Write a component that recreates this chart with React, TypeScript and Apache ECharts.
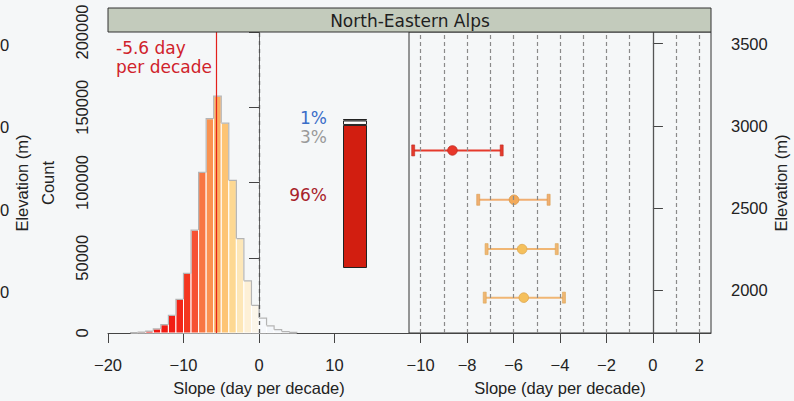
import React, { useEffect, useRef } from "react";
import * as echarts from "echarts";

// ---------- data ----------
const TITLE = "North-Eastern Alps";
const MEDIAN_SLOPE = -5.6;
// histogram bins (lower edge, width 1 day/decade) and counts
const binStarts = [-17, -16, -15, -14, -13, -12, -11, -10, -9, -8, -7, -6, -5, -4, -3, -2, -1, 0, 1, 2, 3, 4];
const binCounts = [300, 600, 1300, 2700, 5500, 11700, 22400, 39600, 68400, 106700, 142400, 157400, 139500, 101400, 62700, 34700, 18400, 9900, 4800, 2200, 900, 400];
const histXTicks = [-20, -10, 0, 10];
// share of pixels: significant negative / not significant / positive
const shareLabels = ["96%", "3%", "1%"];
const shareValues = [96, 3, 1];
// elevation bands: slope estimate with confidence interval
const bandElevation = [2850, 2550, 2250, 1955];
const bandSlope = [-8.63, -5.98, -5.63, -5.56];
const bandLow = [-10.32, -7.52, -7.16, -7.24];
const bandHigh = [-6.51, -4.49, -4.14, -3.83];
const slopeTicks = [-10, -8, -6, -4, -2, 0, 2];
const slopeGuides = [-10, -9, -8, -7, -6, -5, -4, -3, -2, -1, 1, 2];
const elevTicks = [2000, 2500, 3000, 3500];
// cut-off tick labels of the neighbouring panel (at the elevation ticks)
const neighbourLabels = ["0", "0", "0", "0"];

// ---------- styles ----------
const binColors = [
  "#e8140e", "#ea140e", "#ec150f", "#ee1710", "#f01a12", "#f21d14", "#f32518",
  "#f4361f", "#f65234", "#f87642", "#fa9250", "#fcad5e", "#fdc474", "#fdd892",
  "#fde7b8", "#fdf0d6", "#fcf6ea", "#f6f8fb", "#f4f7fb", "#f4f7fb", "#f4f7fb", "#f4f7fb",
];
const shareColors = ["#d21e10", "#ffffff", "#3a6ec8"];
const shareTextColors = ["#a8222a", "#9a9a9a", "#3a6ec8"];
const bandStyles = [
  { line: "#e53a2c", fill: "#e8372a", stroke: "#c02a20" },
  { line: "#f0ae72", fill: "#f3aa5a", stroke: "#d99848" },
  { line: "#f0b674", fill: "#f5c05c", stroke: "#dca650" },
  { line: "#f0b674", fill: "#f5c05c", stroke: "#dca650" },
];

const SANS = "'Liberation Sans', Arial, sans-serif";
const VERD = "'DejaVu Sans', Verdana, sans-serif";
const minus = (v: number) => (v < 0 ? "\u2212" + Math.abs(v) : String(v));

export default function App() {
  const ref = useRef<HTMLDivElement>(null);
  useEffect(() => {
    if (!ref.current) return;
    const chart = echarts.init(ref.current, undefined, { renderer: "svg" });

    const histData = binStarts.map((s, i) => [
      s,
      s + 1,
      binCounts[i],
      i > 0 ? binCounts[i - 1] : 0,
      i < binCounts.length - 1 ? binCounts[i + 1] : 0,
    ]);
    const bandData = bandElevation.map((e, i) => [e, bandSlope[i], bandLow[i], bandHigh[i]]);

    const axisText = { color: "#222", fontFamily: SANS, fontSize: 16.5 };
    const axisLineStyle = { color: "#444", width: 1 };

    const option: any = {
      animation: false,
      backgroundColor: "#f5f7f8",
      grid: [
        { left: 108, top: 32, width: 302, height: 301 },
        { left: 343, top: 119, width: 24, height: 149 },
        { left: 409, top: 32, width: 302, height: 301, show: true, borderColor: "#333", borderWidth: 1, backgroundColor: "transparent" },
      ],
      xAxis: [
        {
          gridIndex: 0,
          type: "value",
          min: -20,
          max: 20,
          interval: 10,
          name: "Slope (day per decade)",
          nameLocation: "middle",
          nameGap: 46,
          nameTextStyle: { ...axisText },
          axisLine: { show: true, lineStyle: axisLineStyle },
          axisTick: { show: true, length: 10, customValues: histXTicks, lineStyle: axisLineStyle },
          axisLabel: { ...axisText, margin: 23, customValues: histXTicks, formatter: (v: number) => minus(v) },
          splitLine: { show: false },
        },
        { gridIndex: 1, type: "category", data: ["share"], show: false },
        {
          gridIndex: 2,
          type: "value",
          min: -10.5,
          max: 2.5,
          name: "Slope (day per decade)",
          nameLocation: "middle",
          nameGap: 46,
          nameTextStyle: { ...axisText },
          axisLine: { show: true, lineStyle: axisLineStyle },
          axisTick: { show: true, length: 10, customValues: slopeTicks, lineStyle: axisLineStyle },
          axisLabel: { ...axisText, margin: 23, customValues: slopeTicks, formatter: (v: number) => minus(v) },
          splitLine: { show: false },
        },
      ],
      yAxis: [
        {
          gridIndex: 0,
          type: "value",
          min: 0,
          max: 200000,
          interval: 50000,
          axisLine: { show: true, lineStyle: { color: "#666", width: 1 } },
          axisTick: { show: true, length: 10, lineStyle: axisLineStyle },
          axisLabel: { ...axisText, rotate: 90, margin: 18, formatter: (v: number) => String(v) },
          splitLine: { show: false },
        },
        { gridIndex: 1, type: "value", min: 0, max: 100, show: false },
        {
          gridIndex: 2,
          type: "value",
          position: "right",
          min: 1740,
          max: 3570,
          axisLine: { show: true, lineStyle: axisLineStyle },
          axisTick: { show: true, length: 10, customValues: elevTicks, lineStyle: axisLineStyle },
          axisLabel: { ...axisText, margin: 20, customValues: elevTicks, formatter: (v: number) => String(v) },
          splitLine: { show: false },
        },
      ],
      series: [
        {
          type: "custom",
          xAxisIndex: 0,
          yAxisIndex: 0,
          data: histData,
          encode: { x: [0, 1], y: 2 },
          renderItem: (params: any, api: any) => {
            const x0 = api.value(0), x1 = api.value(1), c = api.value(2);
            const prev = api.value(3), next = api.value(4);
            const b = api.coord([x0, 0]);
            const t = api.coord([x1, c]);
            const yPrev = api.coord([x0, prev])[1];
            const yNext = api.coord([x1, next])[1];
            const top = t[1];
            const yl = c > prev ? yPrev : top;
            const yr = c > next ? yNext : top;
            return {
              type: "group",
              children: [
                {
                  type: "rect",
                  shape: { x: b[0], y: top, width: t[0] - b[0], height: b[1] - top },
                  style: { fill: binColors[params.dataIndex], stroke: "#ffffff", lineWidth: 1 },
                },
                {
                  type: "polyline",
                  shape: { points: [[b[0], yl], [b[0], top], [t[0], top], [t[0], yr]] },
                  style: { fill: "none", stroke: "#b4b4b4", lineWidth: 1.2 },
                },
              ],
            };
          },
          markLine: {
            silent: true,
            symbol: "none",
            label: { show: false },
            data: [
              { xAxis: 0, lineStyle: { color: "#555", type: [4, 4], width: 1.3 } },
              { xAxis: MEDIAN_SLOPE, lineStyle: { color: "#e3201c", type: "solid", width: 1.2 } },
            ],
          },
          z: 2,
        },
        ...shareValues.map((v, i) => ({
          type: "bar",
          xAxisIndex: 1,
          yAxisIndex: 1,
          stack: "share",
          barWidth: "100%",
          data: [v],
          itemStyle: { color: shareColors[i], borderColor: "#222", borderWidth: 1 },
          z: 3,
        })),
        {
          type: "custom",
          xAxisIndex: 2,
          yAxisIndex: 2,
          data: bandData,
          encode: { x: [1, 2, 3], y: 0 },
          renderItem: (params: any, api: any) => {
            const e = api.value(0);
            const pc = api.coord([api.value(1), e]);
            const pl = api.coord([api.value(2), e]);
            const ph = api.coord([api.value(3), e]);
            const st = bandStyles[params.dataIndex];
            const cap = (x: number) => ({
              type: "rect",
              shape: { x: x - 1.5, y: pc[1] - 5.5, width: 3, height: 11 },
              style: { fill: st.line, stroke: st.stroke, lineWidth: 0.6 },
            });
            return {
              type: "group",
              children: [
                { type: "line", shape: { x1: pl[0], y1: pc[1], x2: ph[0], y2: pc[1] }, style: { stroke: st.line, lineWidth: 2 } },
                cap(pl[0]),
                cap(ph[0]),
                { type: "circle", shape: { cx: pc[0], cy: pc[1], r: 4.8 }, style: { fill: st.fill, stroke: st.stroke, lineWidth: 0.8 } },
              ],
            };
          },
          markLine: {
            silent: true,
            symbol: "none",
            label: { show: false },
            data: [
              ...slopeGuides.map((v) => ({ xAxis: v, lineStyle: { color: "#8a8a8a", type: [4, 3], width: 1.2 } })),
              { xAxis: 0, lineStyle: { color: "#555", type: "solid", width: 1.3 } },
            ],
          },
          z: 3,
        },
      ],
      graphic: [
        {
          type: "rect",
          shape: { x: 108, y: 8, width: 603, height: 24 },
          style: { fill: "#c3cbbc", stroke: "#333", lineWidth: 1 },
          z: 10,
        },
        {
          type: "text",
          x: 410,
          y: 20.5,
          style: { text: TITLE, font: `17px ${VERD}`, fill: "#1e1e1e", align: "center", verticalAlign: "middle" },
          z: 11,
        },
        {
          type: "text",
          x: 116,
          y: 38,
          style: {
            text: `${MEDIAN_SLOPE} day\nper decade`,
            font: `17px ${VERD}`,
            lineHeight: 19.5,
            fill: "#d0222b",
            align: "left",
            verticalAlign: "top",
          },
          z: 11,
        },
        { type: "text", x: 327, y: 195, style: { text: shareLabels[0], font: `17px ${VERD}`, fill: shareTextColors[0], align: "right", verticalAlign: "middle" }, z: 11 },
        { type: "text", x: 327, y: 136.5, style: { text: shareLabels[1], font: `17px ${VERD}`, fill: shareTextColors[1], align: "right", verticalAlign: "middle" }, z: 11 },
        { type: "text", x: 327, y: 118, style: { text: shareLabels[2], font: `17px ${VERD}`, fill: shareTextColors[2], align: "right", verticalAlign: "middle" }, z: 11 },
        {
          type: "text",
          x: 48,
          y: 183,
          rotation: Math.PI / 2,
          style: { text: "Count", font: `16.5px ${SANS}`, fill: "#222", align: "center", verticalAlign: "middle" },
        },
        {
          type: "text",
          x: 22,
          y: 183,
          rotation: Math.PI / 2,
          style: { text: "Elevation (m)", font: `16.5px ${SANS}`, fill: "#222", align: "center", verticalAlign: "middle" },
        },
        {
          type: "text",
          x: 781,
          y: 183,
          rotation: Math.PI / 2,
          style: { text: "Elevation (m)", font: `16.5px ${SANS}`, fill: "#222", align: "center", verticalAlign: "middle" },
        },
        ...[45, 127, 210, 291.5].map((y, i) => ({
          type: "text",
          x: 0,
          y,
          style: { text: neighbourLabels[i], font: `16.5px ${SANS}`, fill: "#222", align: "left", verticalAlign: "middle" },
        })),
      ],
    };
    chart.setOption(option);
    return () => chart.dispose();
  }, []);
  return (
    <div
      ref={ref}
      style={{ position: "fixed", left: 0, top: 0, width: 794, height: 401, background: "#f5f7f8" }}
    />
  );
}
